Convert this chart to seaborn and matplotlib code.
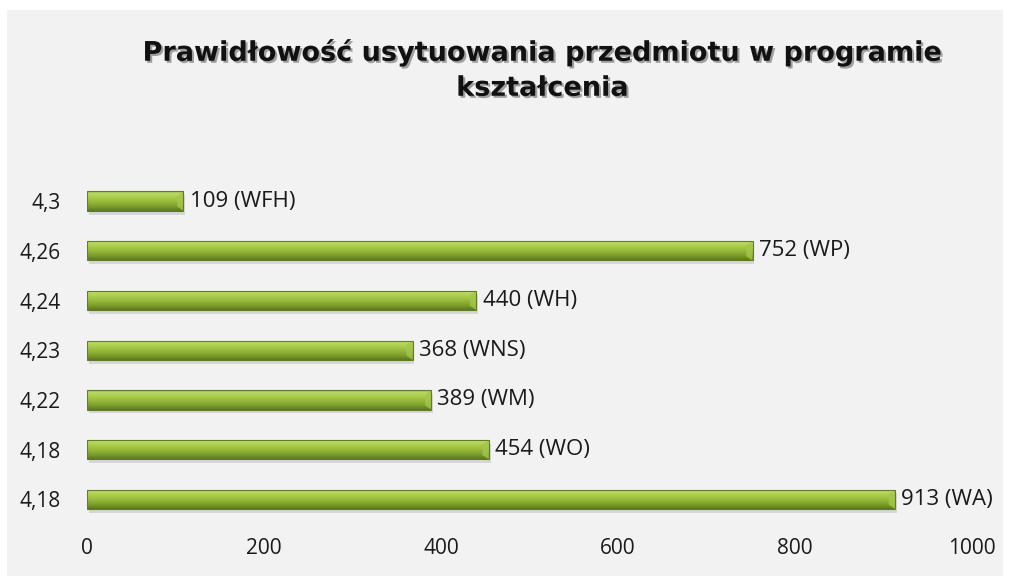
import numpy as np
import pandas as pd
import matplotlib
matplotlib.use('Agg')
import matplotlib.pyplot as plt
import matplotlib.patheffects as pe
from matplotlib.patches import Rectangle, Polygon
from matplotlib.colors import LinearSegmentedColormap
import seaborn as sns

# dane (od góry do dołu)
wydzialy = ['WFH', 'WP', 'WH', 'WNS', 'WM', 'WO', 'WA']
liczby = [109, 752, 440, 368, 389, 454, 913]
oceny = ['4,3', '4,26', '4,24', '4,23', '4,22', '4,18', '4,18']
x_ticks = [0, 200, 400, 600, 800, 1000]

df = pd.DataFrame({'wydzial': wydzialy, 'liczba': liczby})

sns.set_theme(style='white')
plt.rcParams['font.family'] = ['Open Sans', 'DejaVu Sans']

fig = plt.figure(figsize=(10.1, 5.76), dpi=100, facecolor='white')
# szare tło wykresu
fig.patches.append(Rectangle((7 / 1010, 0), 996 / 1010, 566 / 576,
                             transform=fig.transFigure, facecolor='#f2f2f2',
                             edgecolor='none', zorder=-10))
ax = fig.add_axes([87 / 1010, 0.090, (972 - 87) / 1010, 0.604])
ax.set_facecolor('none')

sns.barplot(data=df, x='liczba', y='wydzial', orient='h', width=0.39,
            color='#9bbb59', ax=ax)

# gradient na słupkach
cmap = LinearSegmentedColormap.from_list('g', [
    (0.0, '#8fae42'), (0.1, '#bddb68'), (0.3, '#abcc4c'),
    (0.55, '#95b83a'), (0.8, '#7b9a2c'), (1.0, '#5c7820')])
grad = np.linspace(0, 1, 64).reshape(-1, 1)
for p in ax.patches:
    x0, y0 = p.get_x(), p.get_y()
    w, h = p.get_width(), p.get_height()
    # cień
    ax.add_patch(Rectangle((x0 + 2, y0 + h * 0.2), w, h, facecolor='#c4c4c4',
                           edgecolor='none', alpha=0.6, zorder=1))
    im = ax.imshow(grad, extent=(x0, x0 + w, y0 + h, y0), cmap=cmap,
                   aspect='auto', origin='upper', zorder=2, interpolation='bicubic')
    im.set_clip_path(p)
    # skos na końcu słupka
    d = 7
    ax.add_patch(Polygon([(x0 + w - d, y0 + h * 0.22), (x0 + w, y0),
                          (x0 + w, y0 + h), (x0 + w - d, y0 + h * 0.78)],
                         closed=True, facecolor='#a6c64c', edgecolor='none',
                         alpha=0.8, zorder=2.5))
    p.set_facecolor('none')
    p.set_edgecolor('#617d24')
    p.set_linewidth(0.8)
    p.set_zorder(3)

for i, (n, wd) in enumerate(zip(liczby, wydzialy)):
    ax.text(n + 7, i, f'{n} ({wd})', va='center', ha='left', fontsize=16,
            color='#1a1a1a')

ax.set_xlim(0, 1000)
ax.set_ylim(len(wydzialy) - 0.5, -0.5)
ax.set_xticks(x_ticks)
ax.set_xticklabels([str(t) for t in x_ticks], fontsize=15, color='#1a1a1a')
ax.set_yticks(range(len(oceny)))
ax.set_yticklabels(oceny, fontsize=15, color='#1a1a1a')
ax.tick_params(axis='x', length=0, pad=10)
ax.tick_params(axis='y', length=0, pad=19)
ax.set_xlabel('')
ax.set_ylabel('')
sns.despine(ax=ax, left=True, bottom=True)

fig.text(0.537, 0.878, 'Prawidłowość usytuowania przedmiotu w programie\nkształcenia',
         ha='center', va='center', fontsize=19.5, fontweight='bold',
         family=['DejaVu Sans'], linespacing=1.45, color='#111111',
         path_effects=[pe.SimplePatchShadow(offset=(1.5, -1.5), alpha=0.35),
                       pe.Normal()])

fig.savefig('out.png', dpi=100, facecolor='white')
